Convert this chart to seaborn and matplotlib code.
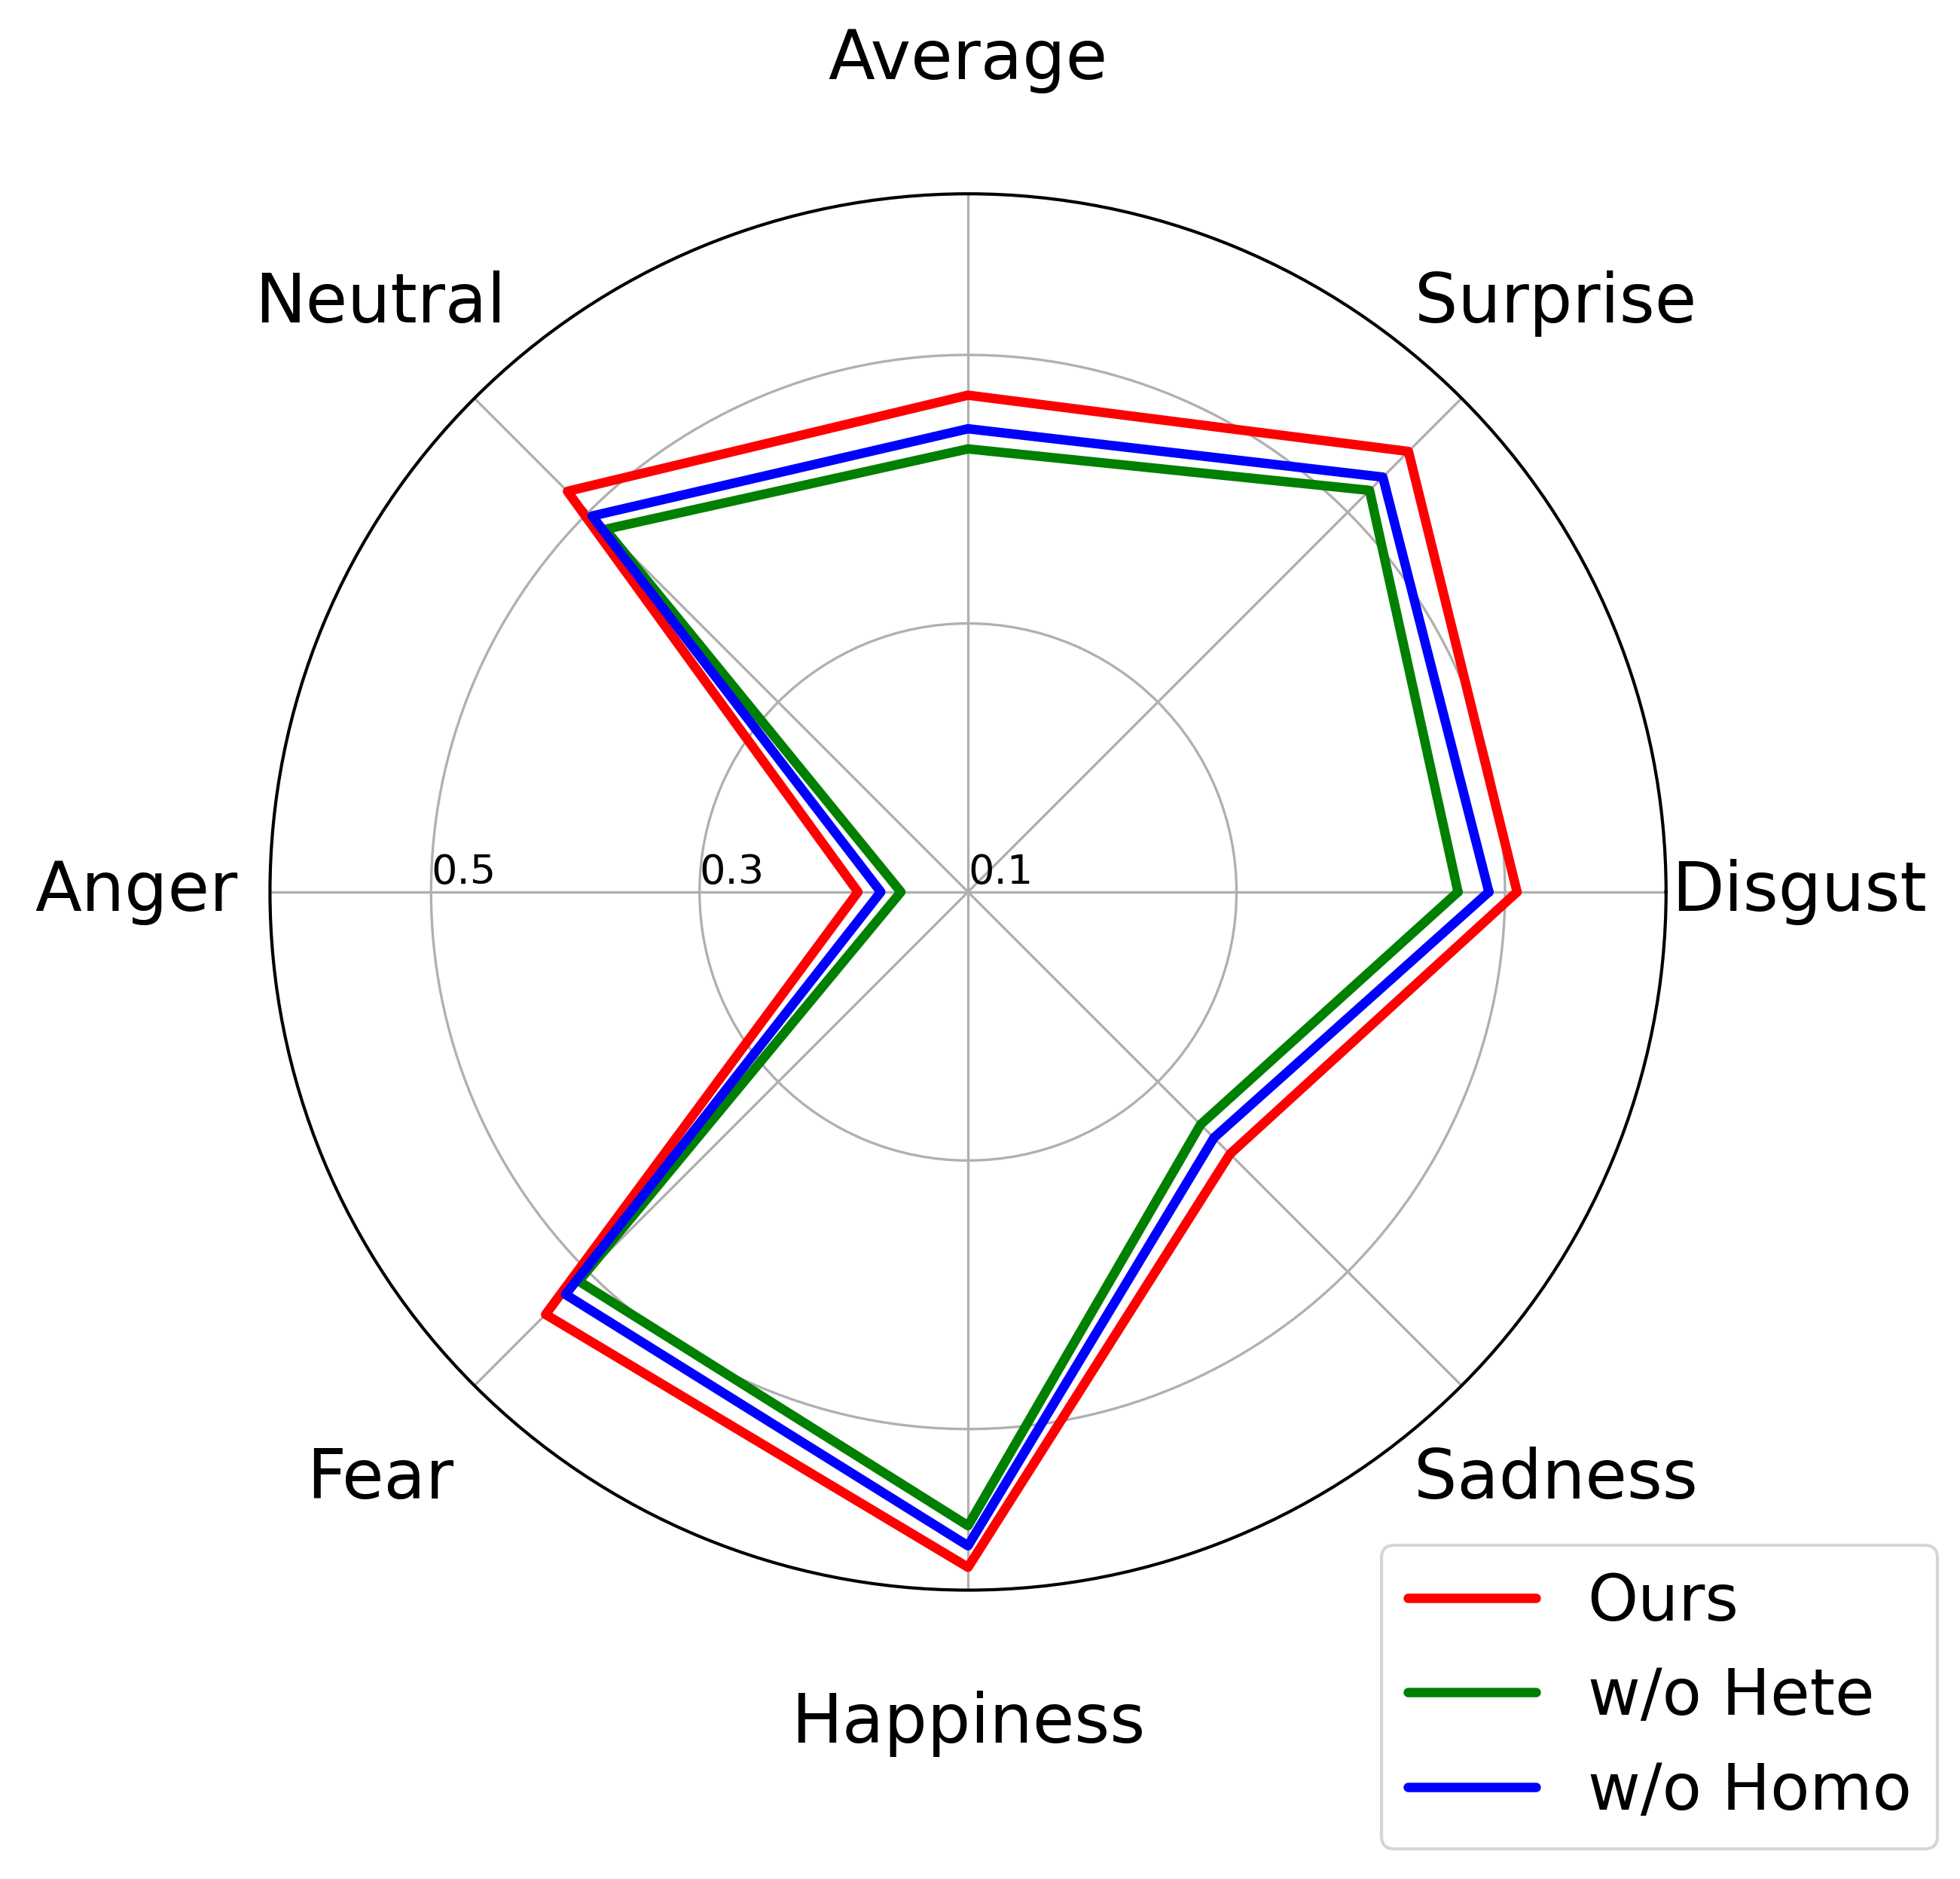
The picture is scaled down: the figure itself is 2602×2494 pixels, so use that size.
import numpy as np
import pandas as pd
import matplotlib
matplotlib.use("Agg")
import matplotlib.pyplot as plt
import seaborn as sns

# Categories, counter-clockwise starting from the east (0 rad)
categories = ["Disgust", "Surprise", "Average", "Neutral", "Anger", "Fear", "Happiness", "Sadness"]

# Scores
ours = [0.509, 0.564, 0.470, 0.522, 0.182, 0.545, 0.603, 0.376]
wo_hete = [0.465, 0.523, 0.430, 0.482, 0.150, 0.510, 0.572, 0.345]
wo_homo = [0.488, 0.537, 0.445, 0.496, 0.165, 0.524, 0.587, 0.359]

series_names = ["Ours", "w/o Hete", "w/o Homo"]
series_values = [ours, wo_hete, wo_homo]
colors = ["red", "green", "blue"]

r_ticks = [0.1, 0.3, 0.5]
r_tick_labels = ["0.1", "0.3", "0.5"]

# Build a long table, closing each polygon by repeating the first point
angles = np.linspace(0, 2 * np.pi, len(categories), endpoint=False)
rows = []
for name, vals in zip(series_names, series_values):
    closed_angles = list(angles) + [2 * np.pi]
    closed_vals = list(vals) + [vals[0]]
    for t, v in zip(closed_angles, closed_vals):
        rows.append({"theta": t, "score": v, "model": name})
df = pd.DataFrame(rows)

sns.set_style("white")
plt.rcParams["font.family"] = ["DejaVu Sans"]
plt.rcParams["text.color"] = "black"
plt.rcParams["xtick.color"] = "black"
plt.rcParams["ytick.color"] = "black"
plt.rcParams["axes.labelcolor"] = "black"

fig = plt.figure(figsize=(2603 / 300, 2494 / 300), dpi=300)
ax = fig.add_axes([0.4937 - 0.356, 0.5253 - 0.3717, 0.712, 0.7434], polar=True)

sns.lineplot(data=df, x="theta", y="score", hue="model", hue_order=series_names,
             palette=colors, sort=False, linewidth=3, ax=ax)

ax.set_ylim(0.1, 0.62)
ax.set_yticks(r_ticks)
ax.set_yticklabels(r_tick_labels, fontsize=13, color="black")
ax.set_rlabel_position(180)
for lab in ax.get_yticklabels():
    lab.set_ha("left")
    lab.set_va("bottom")

ax.set_xticks(angles)
ax.set_xticklabels(categories, fontsize=21.7, color="black")
ax.tick_params(axis="x", pad=32)
ax.set_xlabel("")
ax.set_ylabel("")
ax.grid(True, color="#b0b0b0", linewidth=0.8)
ax.spines["polar"].set_color("black")
ax.spines["polar"].set_linewidth(1.0)

handles, labels = ax.get_legend_handles_labels()
if ax.get_legend() is not None:
    ax.get_legend().remove()
leg = fig.legend(handles, labels, loc="lower right", bbox_to_anchor=(0.988, 0.016),
                 borderaxespad=0, fontsize=20.5, frameon=True)
for t in leg.get_texts():
    t.set_color("black")

fig.savefig("out.png", dpi=300)
